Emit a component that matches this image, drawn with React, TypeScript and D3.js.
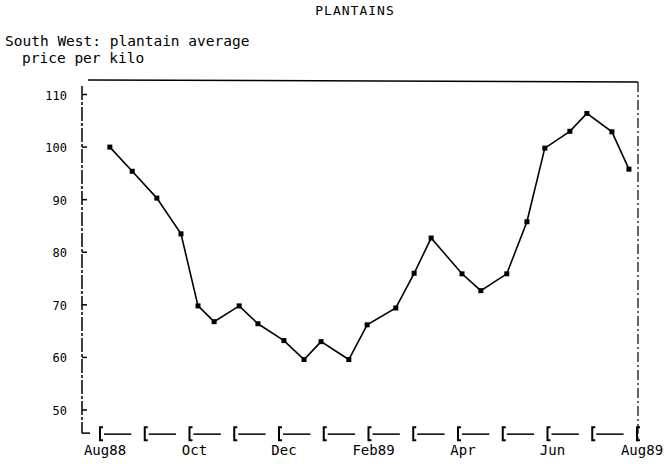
import React from "react";
import * as d3 from "d3";

// x position of each observation, in months after Aug 1988
const obsMonths = [0.22, 0.72, 1.27, 1.81, 2.19, 2.55, 3.11, 3.53, 4.11, 4.56, 4.94, 5.56, 5.97, 6.61, 7.02, 7.4, 8.09, 8.51, 9.09, 9.54, 9.94, 10.5, 10.88, 11.44, 11.82];
// average price per kilo
const prices = [100, 95.4, 90.3, 83.5, 69.8, 66.8, 69.8, 66.4, 63.2, 59.6, 63, 59.6, 66.2, 69.4, 76, 82.7, 75.9, 72.7, 75.9, 85.8, 99.8, 103, 106.4, 102.9, 95.8];

const monthTicks = d3.range(0, 13);
const monthLabels = ["Aug88", "", "Oct", "", "Dec", "", "Feb89", "", "Apr", "", "Jun", "", "Aug89"];
const yTicks = [50, 60, 70, 80, 90, 100, 110];

const W = 671;
const H = 464;
const FONT = "'DejaVu Sans Mono', monospace";

export default function App() {
  const x = d3.scaleLinear().domain([0, 12]).range([100, 637]);
  const y = d3.scaleLinear().domain([50, 110]).range([410, 94.5]);
  const axisX = 82;
  const baseY = y(45.6);
  const topY = 80;
  const rightX = 638;

  const line = d3
    .line<number>()
    .x((_, i) => x(obsMonths[i]))
    .y((d) => y(d));

  const step = x(1) - x(0);

  return (
    <svg
      width={W}
      height={H}
      style={{ position: "absolute", left: 0, top: 0, background: "#fff" }}
    >
      <rect x={0} y={0} width={W} height={H} fill="#fff" />
      <text x={355} y={15} textAnchor="middle" fontFamily={FONT} fontSize={13} letterSpacing={1} fill="#000">
        PLANTAINS
      </text>
      <text x={5} y={46} fontFamily={FONT} fontSize={14.5} fill="#000">
        South West: plantain average
      </text>
      <text x={22} y={63} fontFamily={FONT} fontSize={14.5} fill="#000">
        price per kilo
      </text>

      {/* frame: top and right */}
      <line x1={axisX + 6} x2={rightX} y1={topY} y2={topY + 2} stroke="#000" strokeWidth={1.5} />
      <line x1={rightX} x2={rightX} y1={topY + 2} y2={baseY + 6} stroke="#000" strokeWidth={1.2} strokeDasharray="10 3 2 3" />

      {/* left axis */}
      <line x1={axisX} x2={axisX} y1={topY + 6} y2={baseY} stroke="#000" strokeWidth={1.5} strokeDasharray="14 2 3 2" />
      <line x1={axisX} x2={axisX + 8} y1={baseY} y2={baseY} stroke="#000" strokeWidth={1.5} />
      {yTicks.map((t) => (
        <g key={t}>
          <line x1={axisX} x2={axisX + 5} y1={y(t)} y2={y(t)} stroke="#000" strokeWidth={1.5} />
          <text
            x={67}
            y={y(t) + 5}
            textAnchor="end"
            fontFamily={FONT}
            fontSize={12}
            fill="#000"
          >
            {t}
          </text>
        </g>
      ))}

      {/* bottom axis with bracket ticks */}
      {monthTicks.map((m, i) => {
        const tx = x(m);
        return (
          <g key={m}>
            <path
              d={`M${tx + 3},${baseY - 6} H${tx} V${baseY + 7} H${tx + 3}`}
              fill="none"
              stroke="#000"
              strokeWidth={2}
            />
            {i < 12 && (
              <line
                x1={tx + 4}
                x2={tx + step * 0.7}
                y1={baseY + 1}
                y2={baseY + 1}
                stroke="#000"
                strokeWidth={1.5}
              />
            )}
            {monthLabels[i] && (
              <text
                x={tx + 5}
                y={455}
                textAnchor="middle"
                fontFamily={FONT}
                fontSize={14}
                fill="#000"
              >
                {monthLabels[i]}
              </text>
            )}
          </g>
        );
      })}

      {/* series */}
      <path d={line(prices) ?? ""} fill="none" stroke="#000" strokeWidth={1.6} />
      {prices.map((p, i) => (
        <rect
          key={i}
          x={x(obsMonths[i]) - 2.5}
          y={y(p) - 2.5}
          width={5}
          height={5}
          fill="#000"
        />
      ))}
    </svg>
  );
}
